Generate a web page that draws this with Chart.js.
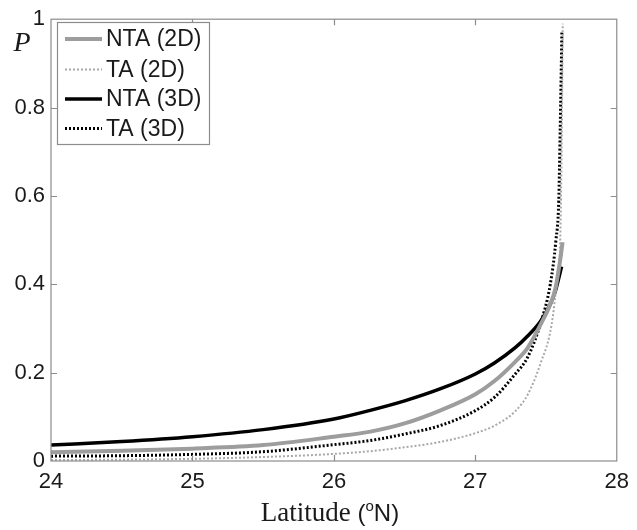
<!DOCTYPE html>
<html>
<head>
<meta charset="utf-8">
<script src="https://cdn.jsdelivr.net/npm/chart.js@4.4.1/dist/chart.umd.min.js"></script>
<style>
  body { margin: 0; background: #fff; }
  #wrap { width: 637px; height: 530px; }
</style>
</head>
<body>
<div id="wrap"><canvas id="myChart" width="637" height="530"></canvas></div>
<script>
// valores
const xTicks = [24, 25, 26, 27, 28];
const yTicks = [0, 0.2, 0.4, 0.6, 0.8, 1];
const yTickLabels = ['0', '0.2', '0.4', '0.6', '0.8', '1'];

const seriesNames = ['NTA (2D)', 'TA (2D)', 'NTA (3D)', 'TA (3D)'];

const latNTA2D = [24, 24.5, 25, 25.5, 26, 26.25, 26.5, 26.75, 27, 27.135, 27.28, 27.37, 27.46, 27.53, 27.566, 27.6, 27.617];
const pNTA2D   = [0.020, 0.023, 0.028, 0.036, 0.055, 0.066, 0.085, 0.114, 0.151, 0.181, 0.224, 0.256, 0.308, 0.355, 0.39, 0.455, 0.495];

const latTA2D = [24, 24.5, 25, 25.5, 26, 26.25, 26.5, 26.75, 27, 27.135, 27.28, 27.37, 27.46, 27.54, 27.58, 27.6, 27.61, 27.618];
const pTA2D   = [0.002, 0.003, 0.005, 0.009, 0.016, 0.022, 0.031, 0.043, 0.063, 0.080, 0.112, 0.150, 0.22, 0.31, 0.42, 0.5, 0.7, 0.99];

const latNTA3D = [24, 24.5, 25, 25.5, 26, 26.25, 26.5, 26.75, 27, 27.135, 27.28, 27.37, 27.46, 27.53, 27.566, 27.61];
const pNTA3D   = [0.036, 0.044, 0.055, 0.071, 0.095, 0.114, 0.136, 0.163, 0.197, 0.222, 0.256, 0.283, 0.316, 0.355, 0.385, 0.44];

const latTA3D = [24, 24.5, 25, 25.5, 26, 26.25, 26.5, 26.75, 27, 27.135, 27.28, 27.37, 27.46, 27.53, 27.57, 27.59, 27.6, 27.612];
const pTA3D   = [0.011, 0.012, 0.015, 0.021, 0.037, 0.046, 0.061, 0.080, 0.114, 0.144, 0.196, 0.235, 0.31, 0.40, 0.50, 0.59, 0.75, 0.97];

const sans = "'Liberation Sans', Arial, Helvetica, sans-serif";
const serif = "'Liberation Serif', 'Times New Roman', serif";
const frameColor = '#8c8c8c';

function pts(xs, ys) {
    return xs.map(function (x, i) { return { x: x, y: ys[i] }; });
}

// moldura com ticks para dentro, nos 4 lados
const framePlugin = {
    id: 'frame',
    afterDatasetsDraw: function (chart) {
        const ctx = chart.ctx;
        const a = chart.chartArea;
        const sx = chart.scales.x, sy = chart.scales.y;
        ctx.save();
        ctx.strokeStyle = frameColor;
        ctx.lineWidth = 1.2;
        ctx.strokeRect(a.left, a.top, a.right - a.left, a.bottom - a.top);
        const tl = 6;
        ctx.beginPath();
        xTicks.slice(1, -1).forEach(function (v) {
            const px = Math.round(sx.getPixelForValue(v)) + 0.5;
            ctx.moveTo(px, a.bottom); ctx.lineTo(px, a.bottom - tl);
            ctx.moveTo(px, a.top); ctx.lineTo(px, a.top + tl);
        });
        yTicks.slice(1, -1).forEach(function (v) {
            const py = Math.round(sy.getPixelForValue(v)) + 0.5;
            ctx.moveTo(a.left, py); ctx.lineTo(a.left + tl, py);
            ctx.moveTo(a.right, py); ctx.lineTo(a.right - tl, py);
        });
        ctx.stroke();
        ctx.restore();
    },
    afterDraw: function (chart) {
        const ctx = chart.ctx;
        ctx.save();

        // legenda
        const bx = 57, by = 22, bw = 152, bh = 122;
        ctx.fillStyle = '#fff';
        ctx.fillRect(bx, by, bw, bh);
        ctx.strokeStyle = frameColor;
        ctx.lineWidth = 1.2;
        ctx.strokeRect(bx + 0.5, by + 0.5, bw, bh);
        const rows = [39, 69.5, 99, 128.5];
        chart.data.datasets.forEach(function (ds, i) {
            const y = rows[i];
            ctx.beginPath();
            ctx.strokeStyle = ds.borderColor;
            ctx.lineWidth = ds.borderWidth;
            ctx.setLineDash(ds.borderDash || []);
            ctx.moveTo(65, y); ctx.lineTo(102, y);
            ctx.stroke();
            ctx.setLineDash([]);
            ctx.fillStyle = '#1a1a1a';
            ctx.font = '23px ' + sans;
            ctx.textAlign = 'left';
            ctx.textBaseline = 'middle';
            ctx.fillText(ds.label, 106, y + 1);
        });

        // rotulo do eixo y
        ctx.fillStyle = '#1a1a1a';
        ctx.font = 'italic 28px ' + serif;
        ctx.textAlign = 'center';
        ctx.textBaseline = 'middle';
        ctx.fillText('P', 22, 44);

        // rotulo do eixo x: Latitude (oN)
        const base = 521;
        const f1 = '27px ' + serif, f2 = '24px ' + sans, f3 = '15px ' + sans;
        ctx.font = f1; const w1 = ctx.measureText('Latitude ').width;
        ctx.font = f2; const w2 = ctx.measureText('(').width;
        ctx.font = f3; const w3 = ctx.measureText('o').width;
        ctx.font = f2; const w4 = ctx.measureText('N)').width;
        let x = 330 - (w1 + w2 + w3 + w4) / 2;
        ctx.textAlign = 'left';
        ctx.textBaseline = 'alphabetic';
        ctx.font = f1; ctx.fillText('Latitude ', x, base); x += w1;
        ctx.font = f2; ctx.fillText('(', x, base); x += w2;
        ctx.font = f3; ctx.fillText('o', x, base - 10); x += w3;
        ctx.font = f2; ctx.fillText('N)', x, base);
        ctx.restore();
    }
};

const ctx = document.getElementById('myChart').getContext('2d');
const myChart = new Chart(ctx, {
    type: 'line',
    data: {
        datasets: [
            { label: seriesNames[0], data: pts(latNTA2D, pNTA2D), borderColor: '#9d9d9d', borderWidth: 4, borderDash: [] },
            { label: seriesNames[1], data: pts(latTA2D, pTA2D), borderColor: '#a8a8a8', borderWidth: 2, borderDash: [2, 2] },
            { label: seriesNames[2], data: pts(latNTA3D, pNTA3D), borderColor: '#000000', borderWidth: 3.5, borderDash: [] },
            { label: seriesNames[3], data: pts(latTA3D, pTA3D), borderColor: '#000000', borderWidth: 3, borderDash: [2, 2] }
        ]
    },
    options: {
        responsive: false,
        animation: false,
        layout: { padding: { top: 15, right: 13, left: 0, bottom: 0 } },
        elements: {
            point: { radius: 0, hoverRadius: 0 },
            line: { cubicInterpolationMode: 'monotone', fill: false, borderCapStyle: 'butt' }
        },
        plugins: {
            legend: { display: false },
            tooltip: { enabled: false }
        },
        scales: {
            x: {
                type: 'linear',
                min: 24, max: 28,
                afterBuildTicks: function (scale) {
                    scale.ticks = xTicks.map(function (v) { return { value: v }; });
                },
                afterFit: function (scale) { scale.height = 69; },
                grid: { display: false, drawTicks: false },
                border: { display: false },
                ticks: {
                    color: '#1a1a1a',
                    padding: 8,
                    maxRotation: 0,
                    font: { family: sans, size: 22 },
                    callback: function (v) { return String(v); }
                }
            },
            y: {
                type: 'linear',
                min: 0, max: 1,
                afterBuildTicks: function (scale) {
                    scale.ticks = yTicks.map(function (v) { return { value: v }; });
                },
                afterFit: function (scale) { scale.width = 51; },
                grid: { display: false, drawTicks: false },
                border: { display: false },
                ticks: {
                    color: '#1a1a1a',
                    padding: 6,
                    font: { family: sans, size: 22 },
                    callback: function (v) {
                        const i = yTicks.indexOf(v);
                        return i >= 0 ? yTickLabels[i] : '';
                    }
                }
            }
        }
    },
    plugins: [framePlugin]
});
</script>
</body>
</html>
